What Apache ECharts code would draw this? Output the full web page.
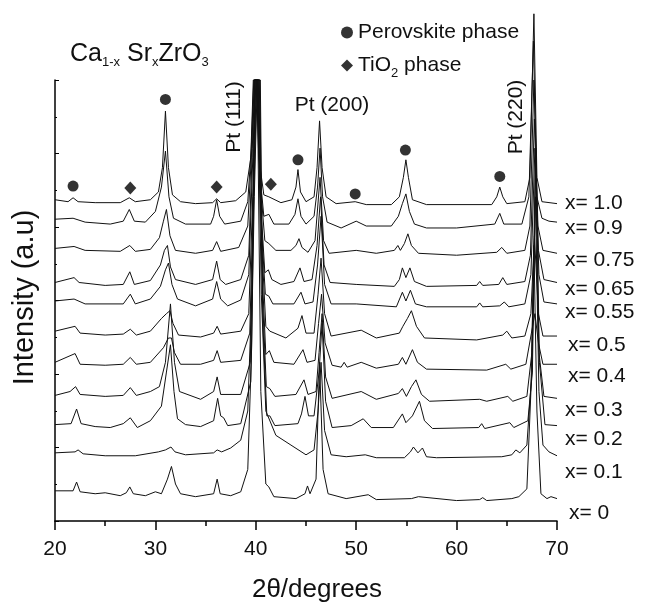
<!DOCTYPE html>
<html>
<head>
<meta charset="utf-8">
<script src="https://cdn.jsdelivr.net/npm/echarts@6/dist/echarts.min.js"></script>
<style>
html,body{margin:0;padding:0;background:#fff;}
#chart{width:646px;height:608px;}
</style>
</head>
<body>
<div id="chart"></div>
<script>
// ---- data: 2θ (degrees) vs. stacked intensity (a.u.) ----
const t100 = [[20,330],[21.3,328],[21.8,332],[22.3,328],[24,327],[26.5,327],[27.4,332],[28,328],[29.5,330],[30.3,338],[30.7,363],[31.0,421],[31.3,363],[31.7,335],[32.5,328],[34,326],[35.7,327],[36.1,331],[36.5,327],[38,329],[39.0,338],[39.5,373],[39.75,453],[40.05,453],[40.3,373],[40.8,335],[41.3,333],[42.5,327],[43.6,330],[44.0,343],[44.2,361],[44.45,338],[45.0,328],[45.8,333],[46.1,363],[46.35,411],[46.6,363],[47.0,333],[48,326],[49.9,328],[51,325],[53.5,325],[54.3,333],[54.7,353],[54.95,371],[55.2,353],[55.6,330],[57,325],[63.5,325],[64.0,333],[64.3,343],[64.6,333],[65.0,326],[66.8,328],[67.3,353],[67.7,521],[68.0,353],[68.5,328],[70,326]];
const t090 = [[20,310],[21.8,311],[23,307],[25.5,305],[26.8,308],[27.4,320],[27.9,308],[29,307],[30.0,318],[30.6,343],[31.0,380],[31.35,333],[31.8,311],[33,305],[35.5,305],[35.8,313],[36.1,330],[36.4,313],[36.9,305],[38.5,308],[39.2,328],[39.55,383],[39.8,453],[40.1,453],[40.35,363],[40.8,313],[41.3,315],[41.8,305],[43.3,305],[43.9,315],[44.2,331],[44.5,313],[45.0,305],[45.8,313],[46.15,343],[46.4,383],[46.65,333],[47.1,307],[48.5,301],[50.0,308],[51,303],[53.5,303],[54.2,313],[54.6,326],[54.95,336],[55.3,318],[55.8,305],[57,301],[60,301],[63.8,305],[64.3,316],[64.7,305],[66.5,305],[67.2,333],[67.65,493],[68.0,333],[68.5,311],[69.2,308],[70,307]];
const t075 = [[20,280],[21.9,282],[23,278],[26.5,277],[27.45,283],[28,277],[29.5,279],[30.4,291],[30.8,308],[31.1,320],[31.45,293],[32,278],[34,275],[35.7,278],[36.1,287],[36.5,277],[38.3,281],[39.2,303],[39.6,383],[39.85,453],[40.15,453],[40.4,353],[40.9,288],[41.3,285],[42,278],[43.5,278],[44.0,283],[44.3,290],[44.6,281],[45.2,276],[45.9,288],[46.4,353],[46.75,288],[47.3,275],[50,278],[52,275],[53.8,278],[54.15,283],[54.4,278],[54.8,285],[55.15,295],[55.5,283],[56.2,275],[60,273],[64.0,276],[64.5,281],[65.0,275],[66.8,278],[67.3,303],[67.7,453],[68.1,303],[68.6,278],[70,275]];
const t065 = [[20,245],[21.9,250],[22.4,245],[25,242],[26.8,243],[27.45,256],[27.9,243],[29.5,247],[30.5,263],[30.9,278],[31.2,283],[31.5,261],[32,248],[34,243],[35.7,248],[36.1,267],[36.45,248],[37,243],[38.5,248],[39.3,273],[39.65,383],[39.9,453],[40.2,453],[40.45,333],[40.9,255],[41.25,258],[41.6,248],[42.5,243],[43.8,246],[44.4,260],[44.8,246],[45.6,248],[46.1,283],[46.45,333],[46.8,263],[47.4,245],[50,243],[53.8,241],[54.3,248],[54.6,260],[54.95,250],[55.35,260],[55.8,246],[57,241],[62.0,242],[62.3,246],[62.6,242],[64.2,243],[64.6,250],[65.0,243],[66.8,246],[67.35,273],[67.75,413],[68.15,278],[68.7,248],[70,245]];
const t055 = [[20,226],[21.9,228],[23,223],[26.8,223],[27.5,233],[28,223],[29.5,228],[30.5,241],[31.0,258],[31.3,265],[31.65,243],[32.2,228],[34,221],[35.7,228],[36.1,246],[36.5,228],[37.2,221],[38.5,227],[39.3,253],[39.7,373],[39.95,453],[40.25,453],[40.5,313],[40.95,233],[41.3,231],[41.7,223],[43.8,223],[44.5,235],[44.9,223],[45.7,225],[46.15,263],[46.5,313],[46.85,243],[47.5,223],[50,223],[54.0,220],[54.6,235],[54.95,226],[55.4,237],[55.9,223],[57,220],[62.0,220],[62.3,224],[62.6,220],[64.3,221],[64.75,225],[65.2,220],[66.8,223],[67.4,253],[67.8,383],[68.2,253],[68.7,225],[70,223]];
const t050 = [[20,195],[22.0,200],[22.5,193],[25,191],[26.8,192],[27.5,197],[28.1,191],[29.5,195],[30.6,208],[31.1,213],[31.45,216],[31.75,203],[32.3,191],[34.5,189],[35.8,193],[36.15,200],[36.5,192],[38.5,195],[39.3,213],[39.7,333],[40.0,453],[40.3,453],[40.55,293],[41.0,200],[41.4,195],[43,188],[44.2,198],[44.6,211],[45.0,193],[45.8,193],[46.2,233],[46.5,270],[46.85,213],[47.5,190],[50.5,196],[52,188],[54.3,193],[54.65,200],[55.1,208],[55.5,216],[56.0,200],[56.8,188],[62,186],[64.6,191],[65.0,195],[65.5,188],[66.8,190],[67.4,213],[67.75,293],[68.15,213],[68.6,190],[70,190]];
const t040 = [[20,163],[22.0,172],[22.5,161],[25,160],[26.8,161],[27.5,168],[28.1,161],[29.5,163],[30.8,178],[31.3,188],[31.6,188],[31.9,173],[32.5,161],[34.5,161],[35.8,165],[36.15,175],[36.5,163],[38.5,165],[39.4,193],[39.75,333],[40.05,453],[40.35,453],[40.6,263],[41.0,171],[41.35,175],[41.8,163],[43.8,161],[44.7,176],[45.1,163],[45.9,165],[46.25,203],[46.55,233],[46.9,183],[47.6,160],[48.5,158],[48.8,163],[49.1,158],[50.5,163],[52,157],[54.2,161],[54.6,168],[54.95,161],[55.6,176],[56.1,163],[57,156],[63,155],[64.9,161],[65.4,156],[66.9,161],[67.45,193],[67.8,213],[68.15,183],[68.6,161],[70,161]];
const t030 = [[20,129],[21.5,133],[22.05,138],[22.5,130],[25,128],[26.8,129],[27.5,137],[28.1,129],[29.5,133],[30.4,138],[31.0,163],[31.5,223],[31.9,163],[32.4,133],[34.5,125],[35.8,133],[36.15,148],[36.5,130],[38.5,130],[39.45,163],[39.8,333],[40.1,453],[40.4,453],[40.65,233],[41.05,138],[41.4,136],[41.9,128],[44.0,130],[44.8,145],[45.2,130],[46.0,133],[46.3,173],[46.6,213],[46.95,148],[47.6,126],[50.5,133],[52,125],[54.2,131],[54.6,136],[55.0,128],[55.5,138],[55.95,145],[56.5,130],[57.3,123],[62.3,125],[63,123],[65.1,128],[65.6,123],[67.0,128],[67.5,173],[67.85,373],[68.2,173],[68.7,128],[70,126]];
const t020 = [[20,99],[21.6,100],[22.15,115],[22.6,100],[24,97],[25.5,96],[26.8,100],[27.5,106],[28.2,96],[29.5,103],[30.6,118],[31.1,153],[31.5,181],[31.85,133],[32.2,105],[33,99],[34.5,97],[35.8,103],[36.2,126],[36.5,108],[36.8,106],[37.2,98],[38.5,100],[39.5,143],[39.85,333],[40.15,453],[40.45,453],[40.7,203],[41.1,108],[41.4,108],[41.9,98],[44.2,100],[44.55,110],[44.9,128],[45.25,108],[45.8,108],[46.3,153],[46.6,203],[46.95,123],[47.6,96],[49.5,98],[50.7,105],[51.5,96],[53.7,96],[54.6,110],[54.95,101],[55.6,108],[56.3,123],[56.8,103],[57.6,95],[62.2,96],[62.5,100],[62.8,95],[65.3,101],[65.7,96],[67.1,103],[67.55,153],[67.9,383],[68.25,163],[68.8,99],[70,98]];
const t010 = [[20,70],[22.0,71],[22.3,73],[22.8,69],[25,67],[28,67],[30.3,71],[31.0,73],[31.55,76],[31.95,71],[33,68],[35.8,70],[36.15,73],[36.6,71],[37.5,75],[38.5,83],[39.2,113],[39.6,233],[39.9,453],[40.2,453],[40.55,233],[41.0,113],[42,88],[43.5,78],[45,68],[45.8,73],[46.2,113],[46.5,163],[46.85,93],[47.5,68],[49,66],[50.9,68],[52,65],[54.8,65],[55.4,71],[55.7,76],[56.15,70],[56.6,75],[57.0,66],[58,65],[64.5,66],[65.5,68],[65.9,73],[66.3,70],[67.0,78],[67.5,153],[67.85,333],[68.2,133],[68.6,78],[69.2,71],[70,67]];
const t000 = [[20,31],[21.8,31],[22.15,40],[22.5,30],[24,28],[25.0,29],[26.5,26],[27.1,29],[27.45,35],[27.8,28],[29,26],[30.0,30],[30.6,28],[31.2,43],[31.6,56],[32.0,38],[32.5,28],[34,25],[35.8,28],[36.15,43],[36.45,28],[37.5,26],[38.5,30],[39.2,53],[39.6,183],[39.9,453],[40.15,453],[40.5,133],[41.0,38],[41.3,35],[41.8,25],[44,23],[44.9,28],[45.15,36],[45.4,28],[46.0,43],[46.35,163],[46.7,53],[47.2,28],[49,23],[51.2,27],[52,22],[55.5,23],[56.2,25],[60,21],[62.3,22],[62.6,24],[63,21],[65.5,23],[66.2,25],[67.0,33],[67.4,133],[67.7,283],[68.0,113],[68.4,28],[69.0,23],[69.4,25],[70,23]];

const compositions = ['x= 1.0','x= 0.9','x= 0.75','x= 0.65','x= 0.55','x= 0.5','x= 0.4','x= 0.3','x= 0.2','x= 0.1','x= 0'];
const traceData = [t100,t090,t075,t065,t055,t050,t040,t030,t020,t010,t000];

const perovskitePeaks = [[21.8,344],[31.0,433],[44.2,371],[49.9,336],[54.9,381],[64.3,354]];
const tio2Peaks = [[27.5,342],[36.1,343],[41.5,346]];

const xTicks = [20,30,40,50,60,70];

// ---- layout (pixels) ----
const labelY = [203,228,260,289,312,345,376,410,439,472,513];
const labelX = [565,565,565,565,565,568,568,565,565,565,569];

const chart = echarts.init(document.getElementById('chart'));
const FONT = '"Liberation Sans", Arial, Helvetica, sans-serif';

const series = traceData.map((d,i)=>({
  name: compositions[i],
  type: 'line',
  data: d,
  showSymbol: false,
  symbol: 'none',
  clip: false,
  smooth: false,
  lineStyle: {color:'#111', width:1},
  silent: true,
  z: 2
}));
series.push({
  name: 'Perovskite phase', type: 'scatter', data: perovskitePeaks,
  symbol: 'circle', symbolSize: 11, itemStyle: {color:'#000'}, clip:false, z: 3
});
series.push({
  name: 'TiO2 phase', type: 'scatter', data: tio2Peaks,
  symbol: 'diamond', symbolSize: [12,13], itemStyle: {color:'#000'}, clip:false, z: 3
});

const graphics = compositions.map((c,i)=>({
  type:'text', x: labelX[i], y: labelY[i],
  style:{text:c, font:'21px '+FONT, fill:'#111', textVerticalAlign:'middle', textAlign:'left'}
}));
graphics.push({type:'text', x:234, y:117, rotation:Math.PI/2,
  style:{text:'Pt (111)', font:'21px '+FONT, fill:'#111', textAlign:'center', textVerticalAlign:'middle'}});
graphics.push({type:'text', x:516, y:117, rotation:Math.PI/2,
  style:{text:'Pt (220)', font:'21px '+FONT, fill:'#111', textAlign:'center', textVerticalAlign:'middle'}});
graphics.push({type:'text', x:332, y:105,
  style:{text:'Pt (200)', font:'21px '+FONT, fill:'#111', textAlign:'center', textVerticalAlign:'middle'}});
graphics.push({type:'text', x:70, y:39,
  style:{
    text:'{n|Ca}{s|1-x}{n| Sr}{s|x}{n|ZrO}{s|3}',
    rich:{
      n:{fontSize:25, fontFamily:FONT, fill:'#111', lineHeight:30, verticalAlign:'middle'},
      s:{fontSize:13, fontFamily:FONT, fill:'#111', lineHeight:13, verticalAlign:'bottom'}
    },
    fill:'#111'
  }});

chart.setOption({
  animation:false,
  backgroundColor:'#fff',
  grid:{left:55, right:89, top:80, bottom:75, containLabel:false},
  legend:{
    data:[{name:'Perovskite phase', icon:'circle'},{name:'TiO2 phase', icon:'diamond'}],
    orient:'vertical', left:336, top:17, itemGap:12,
    itemWidth:12, itemHeight:12, selectedMode:false,
    textStyle:{fontSize:21, fontFamily:FONT, color:'#111',
      rich:{
        n:{fontSize:21, fontFamily:FONT, color:'#111', lineHeight:28, verticalAlign:'middle'},
        s:{fontSize:13, fontFamily:FONT, color:'#111', lineHeight:13, verticalAlign:'bottom'}
      }},
    formatter: name => name==='TiO2 phase' ? '{n|TiO}{s|2}{n| phase}' : name
  },
  xAxis:{
    type:'value', min:20, max:70, interval:10,
    name:'2θ/degrees', nameLocation:'middle', nameGap:56,
    nameTextStyle:{fontSize:26, fontFamily:FONT, color:'#111', padding:[0,0,0,22]},
    axisLine:{show:true, onZero:false, lineStyle:{color:'#000', width:1.5}},
    axisTick:{show:true, inside:false, length:9, lineStyle:{color:'#000', width:1.5}},
    minorTick:{show:true, splitNumber:2, length:5, lineStyle:{color:'#000', width:1.5}},
    axisLabel:{fontSize:21, fontFamily:FONT, color:'#111', margin:18,
      customValues: xTicks},
    splitLine:{show:false}
  },
  yAxis:{
    type:'value', min:0, max:453, interval:75.5,
    name:'Intensity (a.u)', nameLocation:'middle', nameGap:16, nameRotate:90,
    nameTextStyle:{fontSize:29, fontFamily:FONT, color:'#111', padding:[0,0,0,6]},
    axisLine:{show:true, lineStyle:{color:'#000', width:1.5}},
    axisTick:{show:true, inside:true, length:4, lineStyle:{color:'#000', width:1}},
    minorTick:{show:true, splitNumber:2, length:2, lineStyle:{color:'#000', width:1}},
    axisLabel:{show:false},
    splitLine:{show:false}
  },
  graphic: graphics,
  series: series
});
</script>
</body>
</html>
